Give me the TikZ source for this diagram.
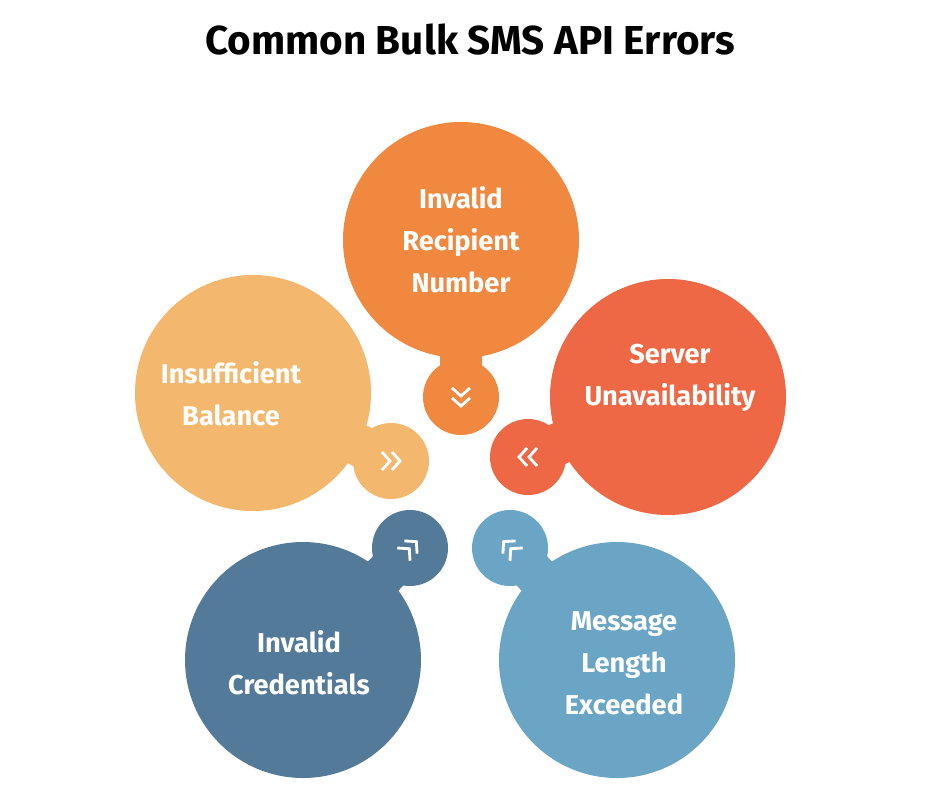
\documentclass[tikz,border=0pt]{standalone}
\usepackage{fontspec}
\setmainfont{Fira Sans}
\definecolor{topc}{HTML}{F0883F}
\definecolor{rightc}{HTML}{EE6845}
\definecolor{leftc}{HTML}{F3B86E}
\definecolor{credc}{HTML}{547A99}
\definecolor{lenc}{HTML}{6BA5C5}
\tikzset{
  label/.style={text=white, font=\bfseries\fontsize{15.5}{24}\selectfont, align=center},
  chevron/.style={draw=white, line width=1.6pt}
}
% big circle, neck and small circle of one blob
\newcommand{\blob}[3]{%
  \fill[#1] (#2) circle (118);
  \fill[#1] (#3) circle (38);
  \draw[#1, line width=24pt] (#2) -- (#3);
}
% double chevron, centred at #1, turned by #2
\newcommand{\chev}[2]{%
  \begin{scope}[shift={(#1)}, rotate=#2]
    \draw[chevron] (-9,9) -- (-1,0) -- (-9,-9);
    \draw[chevron] (1,9) -- (9,0) -- (1,-9);
  \end{scope}
}
\begin{document}
\begin{tikzpicture}[x=0.02cm, y=-0.02cm]
    \useasboundingbox (0,0) rectangle (940,788);

    % the title
    \node[font=\bfseries\fontsize{23}{28}\selectfont] (title) at (470,40) {Common Bulk SMS API Errors};

    % the five blobs
    \blob{topc}{461,240}{461,397}
    \blob{rightc}{668,397}{528,457}
    \blob{leftc}{253,393}{391,461}
    \blob{credc}{303,660}{410,548}
    \blob{lenc}{617,660}{510,548}

    % the chevrons, pointing to the middle
    \chev{461,397}{-90}
    \chev{528,457}{180}
    \chev{391,461}{0}
    \chev{410,548}{45}
    \chev{510,548}{135}

    % the texts
    \node[label] (recipient) at (461,240) {Invalid\\Recipient\\Number};
    \node[label] (server) at (670,378) {Server\\Unavailability};
    \node[label] (balance) at (231,394) {Insufficient\\Balance};
    \node[label] (credentials) at (299,663) {Invalid\\Credentials};
    \node[label] (length) at (624,663) {Message\\Length\\Exceeded};
\end{tikzpicture}
\end{document}
